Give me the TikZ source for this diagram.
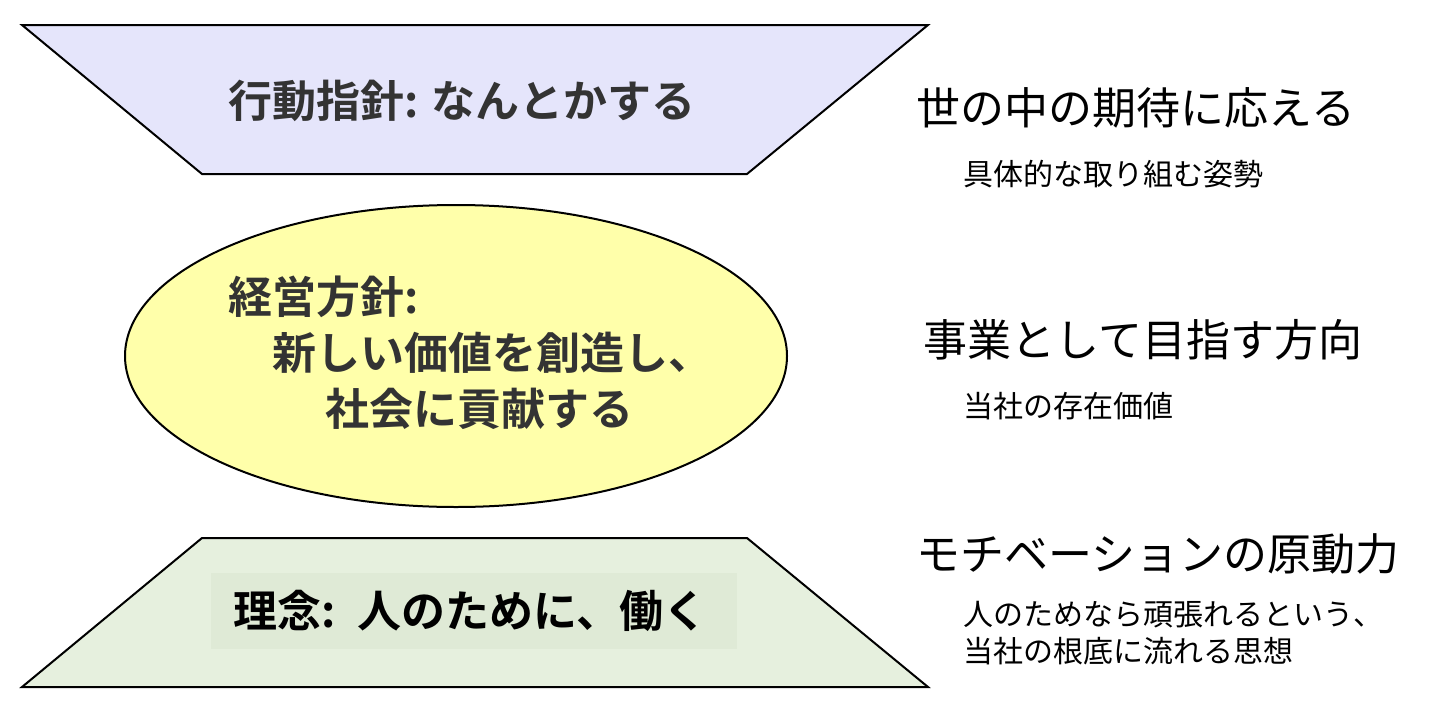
\documentclass[tikz,border=0pt]{standalone}
\usepackage{fontspec}
\setmainfont{Noto Sans CJK JP}
\newfontfamily\jpbold{Noto Sans CJK JP Bold}
\usetikzlibrary{shapes.geometric}

\definecolor{actionfill}{HTML}{E5E5FB}
\definecolor{missionfill}{HTML}{FFFFAA}
\definecolor{visionfill}{HTML}{E6F0DE}
\definecolor{visionbox}{HTML}{DFEAD6}
\definecolor{shapetext}{HTML}{333333}

\tikzset{
    layer/.style={draw=black, line width=1pt, line join=miter},
    shapelabel/.style={inner sep=0pt, text=shapetext, font=\jpbold\fontsize{22pt}{28pt}\selectfont},
    headline/.style={anchor=west, inner sep=0pt, font=\fontsize{22pt}{28pt}\selectfont},
    subline/.style={anchor=west, inner sep=0pt, align=left, font=\fontsize{15pt}{18.5pt}\selectfont}
}

\begin{document}
\begin{tikzpicture}[x=0.5pt, y=-0.5pt]

    \useasboundingbox (0,0) rectangle (1440,712);

    % Define the corners of the two trapezoids
    \coordinate (A1) at (22,25);
    \coordinate (A2) at (928,25);
    \coordinate (A3) at (747,174);
    \coordinate (A4) at (202,174);
    \coordinate (V1) at (202,538);
    \coordinate (V2) at (747,538);
    \coordinate (V3) at (928,687);
    \coordinate (V4) at (22,687);

    % Draw the top layer (action)
    \draw[layer, fill=actionfill] (A1) -- (A2) -- (A3) -- (A4) -- cycle;
    \node[shapelabel] (action) at (462,101) {行動指針: なんとかする};

    % Draw the middle layer (mission)
    \node[ellipse, layer, fill=missionfill, inner sep=0pt, minimum width=331pt, minimum height=151pt] (mission) at (456,356) {};
    \node[shapelabel, anchor=west, align=left] (missiontext) at (228,353)
        {経営方針:\\\hspace{1em}新しい価値を創造し、\\\hspace{2.2em}社会に貢献する};

    % Draw the bottom layer (vision)
    \draw[layer, fill=visionfill] (V1) -- (V2) -- (V3) -- (V4) -- cycle;
    \node[shapelabel, text=black, fill=visionbox, minimum width=263pt, minimum height=38pt,
          text width=241pt, inner xsep=11pt, align=left] (vision) at (474,611) {理念: 人のために、働く};

    % Label the layers on the right
    \node[headline] (expect) at (916,108) {世の中の期待に応える};
    \node[subline] (attitude) at (963,174) {具体的な取り組む姿勢};
    \node[headline] (direction) at (923,340) {事業として目指す方向};
    \node[subline] (value) at (963,406) {当社の存在価値};
    \node[headline] (motive) at (916,554) {モチベーションの原動力};
    \node[subline] (thought) at (963,633) {人のためなら頑張れるという、\\当社の根底に流れる思想};

\end{tikzpicture}
\end{document}
